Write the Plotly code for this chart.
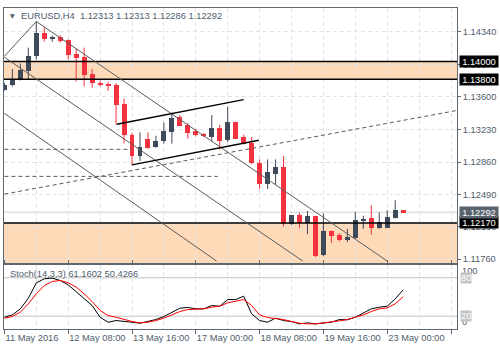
import plotly.graph_objects as go

# EURUSD H4 candles, 11 May 2016 00:00 .. 23 May 2016 08:00 (weekend bars skipped)
bar_index = list(range(51))
opens = [1.13681, 1.13737, 1.13796, 1.13893, 1.14061, 1.14325, 1.14251, 1.14284, 1.14240, 1.14083,
         1.14050, 1.13860, 1.13756, 1.13740, 1.13729, 1.13514, 1.13171, 1.12929, 1.13123, 1.13030,
         1.13097, 1.13201, 1.13368, 1.13282, 1.13215, 1.13178, 1.13145, 1.13245, 1.13115, 1.13320,
         1.13145, 1.13078, 1.12855, 1.12612, 1.12724, 1.12799, 1.12154, 1.12259, 1.12165, 1.12251,
         1.11805, 1.12084, 1.12028, 1.11972, 1.11998, 1.12192, 1.12229, 1.12117, 1.12117, 1.12229,
         1.12313]
highs = [1.13759, 1.13916, 1.13979, 1.14158, 1.14455, 1.14388, 1.14295, 1.14299, 1.14251, 1.14147,
         1.14158, 1.13916, 1.13785, 1.13767, 1.13756, 1.13581, 1.13190, 1.13197, 1.13197, 1.13159,
         1.13309, 1.13421, 1.13394, 1.13301, 1.13234, 1.13190, 1.13394, 1.13282, 1.13488, 1.13320,
         1.13171, 1.13145, 1.12891, 1.12891, 1.12891, 1.12929, 1.12259, 1.12288, 1.12304, 1.12251,
         1.12277, 1.12084, 1.12054, 1.12103, 1.12296, 1.12251, 1.12371, 1.12288, 1.12315, 1.12427,
         1.12313]
lows = [1.13670, 1.13718, 1.13785, 1.13796, 1.14027, 1.14225, 1.14225, 1.14217, 1.14027, 1.13774,
        1.13718, 1.13703, 1.13718, 1.13667, 1.13282, 1.13070, 1.12829, 1.12874, 1.13011, 1.13022,
        1.13070, 1.13070, 1.13264, 1.13126, 1.13153, 1.13142, 1.13097, 1.13003, 1.13089, 1.13123,
        1.13059, 1.12836, 1.12556, 1.12556, 1.12601, 1.12129, 1.12148, 1.12110, 1.12043, 1.11782,
        1.11793, 1.11942, 1.11961, 1.11953, 1.11991, 1.12103, 1.12036, 1.12103, 1.12110, 1.12221,
        1.12286]
closes = [1.13740, 1.13796, 1.13904, 1.14064, 1.14325, 1.14251, 1.14284, 1.14232, 1.14075, 1.14038,
          1.13849, 1.13756, 1.13729, 1.13731, 1.13506, 1.13164, 1.12929, 1.13033, 1.13022, 1.13097,
          1.13209, 1.13357, 1.13271, 1.13190, 1.13171, 1.13153, 1.13245, 1.13097, 1.13320, 1.13126,
          1.13070, 1.12847, 1.12612, 1.12743, 1.12799, 1.12154, 1.12259, 1.12165, 1.12248, 1.11793,
          1.12084, 1.12017, 1.11972, 1.12006, 1.12203, 1.12215, 1.12117, 1.12184, 1.12240, 1.12313,
          1.12292]

# Stochastic(14,3,3): %K main line and %D signal line
stoch_k = [18.4, 22.0, 31.5, 48.0, 72.0, 78.4, 79.5, 75.8, 69.0, 58.6,
           48.0, 36.7, 18.4, 10.6, 13.2, 12.2, 10.6, 9.0, 11.7, 14.8,
           19.5, 26.3, 32.5, 33.6, 31.5, 31.5, 36.7, 35.6, 46.0, 46.0,
           51.3, 23.7, 13.2, 10.6, 16.9, 13.2, 11.7, 8.0, 9.6, 8.0,
           9.6, 10.6, 14.8, 14.3, 18.4, 25.2, 31.5, 34.1, 35.6, 47.0,
           61.1602]
stoch_d = [16.9, 19.5, 26.3, 39.3, 55.0, 68.0, 74.3, 75.8, 72.2, 65.4,
           55.0, 43.0, 28.9, 21.0, 18.4, 14.8, 11.7, 9.6, 10.6, 13.2,
           16.9, 22.0, 27.3, 30.4, 31.5, 31.5, 34.1, 35.6, 40.9, 43.0,
           46.0, 36.7, 22.0, 17.9, 16.9, 14.8, 11.7, 9.0, 8.0, 8.0,
           9.6, 10.6, 12.7, 14.8, 17.9, 22.0, 27.3, 31.5, 33.0, 39.3,
           50.4266]

date_ticks = [0, 8, 16, 24, 32, 40, 48, 56]
date_labels = ["11 May 2016", "12 May 08:00", "13 May 16:00", "17 May 00:00",
               "18 May 08:00", "19 May 16:00", "23 May 00:00", ""]
price_ticks = [1.14340, 1.13970, 1.13600, 1.13230, 1.12860, 1.12490, 1.12130, 1.11760]

resistance_zone = [1.13800, 1.14000]
support_level = 1.12170
last_price = 1.12292
stoch_levels = [80, 20]

# trend lines as (bar0, price0, bar1, price1)
rising_channel = [(14.1, 1.13290, 30.0, 1.13569),
                  (16.0, 1.12829, 31.9, 1.13108)]
falling_lines = [(0.0, 1.14061, 4.0, 1.14455),
                 (4.0, 1.14455, 48.0, 1.11738),
                 (0.0, 1.14050, 37.4, 1.11738),
                 (0.0, 1.13413, 26.6, 1.11738)]
dashed_lines = [(0.0, 1.13005, 16.0, 1.13005),
                (0.0, 1.12698, 26.75, 1.12698),
                (0.0, 1.12497, 56.75, 1.13446)]

X_RANGE = [-0.05, 56.75]
Y_RANGE = [1.11715, 1.14608]

BULL = "#3E4A5A"
BEAR = "#F4323F"
PEACH = "#FFDAB9"
GRID = "#E2E2E2"
TEXT = "#4E5D6B"
FRAME = "#5E6872"
FONT = "Liberation Sans"
FS = 9.3

fig = go.Figure()

# wicks
for is_bull, color in ((True, BULL), (False, BEAR)):
    wx, wy = [], []
    for i, o, h, l, c in zip(bar_index, opens, highs, lows, closes):
        if (c >= o) == is_bull:
            wx += [i, i, None]
            wy += [l, h, None]
    fig.add_trace(go.Scatter(x=wx, y=wy, mode="lines", line=dict(color=color, width=1),
                             hoverinfo="skip", showlegend=False, xaxis="x", yaxis="y"))

# bodies
for is_bull, color in ((True, BULL), (False, BEAR)):
    bx, base, height = [], [], []
    for i, o, c in zip(bar_index, opens, closes):
        if (c >= o) == is_bull:
            bx.append(i)
            base.append(min(o, c))
            height.append(abs(c - o))
    fig.add_trace(go.Bar(x=bx, y=height, base=base, width=0.62,
                         marker=dict(color=color, line=dict(width=0)),
                         showlegend=False, xaxis="x", yaxis="y"))

# stochastic lines
fig.add_trace(go.Scatter(x=bar_index, y=stoch_k, mode="lines", line=dict(color="#000000", width=1),
                         showlegend=False, xaxis="x", yaxis="y2"))
fig.add_trace(go.Scatter(x=bar_index, y=stoch_d, mode="lines", line=dict(color="#FF0000", width=1),
                         showlegend=False, xaxis="x", yaxis="y2"))

shapes = []
# supply / demand zones
shapes.append(dict(type="rect", xref="x", yref="y", x0=X_RANGE[0], x1=X_RANGE[1],
                   y0=resistance_zone[0], y1=resistance_zone[1],
                   fillcolor=PEACH, line=dict(width=0), layer="below"))
shapes.append(dict(type="rect", xref="x", yref="y", x0=X_RANGE[0], x1=X_RANGE[1],
                   y0=Y_RANGE[0], y1=support_level,
                   fillcolor=PEACH, line=dict(width=0), layer="below"))
# last bid line
shapes.append(dict(type="line", xref="x", yref="y", x0=X_RANGE[0], x1=X_RANGE[1],
                   y0=last_price, y1=last_price, line=dict(color="#CFCFCF", width=1), layer="below"))
# horizontal levels
for lvl in resistance_zone + [support_level]:
    shapes.append(dict(type="line", xref="x", yref="y", x0=X_RANGE[0], x1=X_RANGE[1], y0=lvl, y1=lvl,
                       line=dict(color="#000000", width=1.5), layer="above"))
for x0, y0, x1, y1 in falling_lines:
    shapes.append(dict(type="line", xref="x", yref="y", x0=x0, y0=y0, x1=x1, y1=y1,
                       line=dict(color="#5A5A5A", width=1), layer="above"))
for x0, y0, x1, y1 in dashed_lines:
    shapes.append(dict(type="line", xref="x", yref="y", x0=x0, y0=y0, x1=x1, y1=y1,
                       line=dict(color="#5A5A5A", width=1, dash="4px,3px"), layer="above"))
for x0, y0, x1, y1 in rising_channel:
    shapes.append(dict(type="line", xref="x", yref="y", x0=x0, y0=y0, x1=x1, y1=y1,
                       line=dict(color="#000000", width=1.4), layer="above"))
# stochastic overbought / oversold levels
for lvl in stoch_levels:
    shapes.append(dict(type="line", xref="x", yref="y2", x0=X_RANGE[0], x1=X_RANGE[1], y0=lvl, y1=lvl,
                       line=dict(color="#C2C2C2", width=1), layer="below"))

annotations = []


def price_box(value, bg):
    return dict(xref="paper", yref="y", x=1, y=value, xanchor="left", yanchor="middle",
                xshift=2, text=f"{value:.5f}", showarrow=False, bgcolor=bg, valign="middle",
                font=dict(family=FONT, size=FS, color="#FFFFFF"), borderpad=0, height=11, width=38)


for lvl in resistance_zone + [support_level]:
    annotations.append(price_box(lvl, "#000000"))
annotations.append(price_box(last_price, "#58636E"))

# stochastic scale labels
annotations.append(dict(xref="paper", yref="y2", x=1, y=90.5, xanchor="left", yanchor="middle",
                        xshift=3, text="100", showarrow=False,
                        font=dict(family=FONT, size=FS, color=TEXT)))
annotations.append(dict(xref="paper", yref="y2", x=1, y=10.4, xanchor="left", yanchor="middle",
                        xshift=3, text="0", showarrow=False,
                        font=dict(family=FONT, size=FS, color=TEXT)))
for lvl in stoch_levels:
    annotations.append(dict(xref="paper", yref="y2", x=1, y=lvl, xanchor="left", yanchor="middle",
                            xshift=3, text=str(lvl), showarrow=False, bgcolor="#C4C4C4", valign="middle",
                            font=dict(family=FONT, size=FS, color="#FFFFFF"), borderpad=0, height=10))

# headers
annotations.append(dict(xref="paper", yref="paper", x=0.0088, y=0.9755, xanchor="left", yanchor="middle",
                        text="▼", showarrow=False, font=dict(family="DejaVu Sans", size=6, color=TEXT)))
annotations.append(dict(xref="paper", yref="paper", x=0.033, y=0.9755, xanchor="left", yanchor="middle",
                        text="EURUSD,H4  1.12313 1.12313 1.12286 1.12292", showarrow=False,
                        font=dict(family=FONT, size=FS, color=TEXT)))
annotations.append(dict(xref="paper", yref="y2", x=0.0088, y=86.6, xanchor="left", yanchor="middle",
                        text="Stoch(14,3,3) 61.1602 50.4266", showarrow=False,
                        font=dict(family=FONT, size=FS, color=TEXT)))

fig.update_layout(
    width=500, height=350,
    margin=dict(l=3, r=43, t=3, b=21),
    paper_bgcolor="#FFFFFF", plot_bgcolor="#FFFFFF",
    barmode="overlay", bargap=0,
    font=dict(family=FONT, size=FS, color=TEXT),
    showlegend=False,
    shapes=shapes, annotations=annotations,
    xaxis=dict(domain=[0, 1], anchor="y2", range=X_RANGE,
               tickmode="array", tickvals=date_ticks, ticktext=date_labels,
               ticklabelposition="outside right", tickangle=0,
               ticks="outside", ticklen=4, tickcolor=FRAME,
               tickfont=dict(family=FONT, size=FS, color=TEXT),
               showgrid=True, gridcolor=GRID, griddash="4px,3px", gridwidth=1,
               minor=dict(tickmode="linear", tick0=4, dtick=8, showgrid=True,
                          gridcolor=GRID, griddash="4px,3px", ticks=""),
               showline=True, linecolor=FRAME, linewidth=1, mirror="all",
               zeroline=False, fixedrange=True),
    yaxis=dict(domain=[0.2055, 1], anchor="x", side="right", range=Y_RANGE,
               tickmode="array", tickvals=price_ticks, tickformat=".5f",
               ticks="outside", ticklen=3, tickcolor=FRAME,
               tickfont=dict(family=FONT, size=FS, color=TEXT),
               showgrid=True, gridcolor=GRID, griddash="4px,3px", gridwidth=1,
               showline=True, linecolor=FRAME, linewidth=1, mirror=True,
               zeroline=False),
    yaxis2=dict(domain=[0, 0.1994], anchor="x", side="right", range=[0, 100],
                showticklabels=False, ticks="", showgrid=False,
                showline=True, linecolor=FRAME, linewidth=1, mirror=True,
                zeroline=False),
)

fig.write_html("out.html")
